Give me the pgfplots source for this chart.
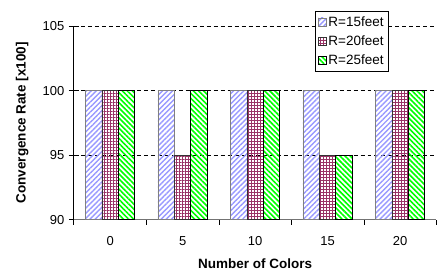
\documentclass[border=0pt]{standalone}
\usepackage{pgfplots}
\pgfplotsset{compat=1.18}
\usepackage{fontspec}
\setmainfont{Liberation Sans}
\usetikzlibrary{patterns.meta}
\definecolor{cblue}{RGB}{153,153,255}
\definecolor{cmaroon}{RGB}{153,51,102}
\definecolor{cgreen}{RGB}{0,255,0}
\begin{document}
\begin{tikzpicture}
\begin{axis}[
  name=ax,
  scale only axis, width=363pt, height=194pt,
  xmin=-0.5, xmax=4.5, ymin=90, ymax=105,
  ybar=0pt,
  xtick={0,1,2,3,4},
  xticklabels={0,5,10,15,20},
  minor xtick={-0.5,0.5,1.5,2.5,3.5,4.5},
  ytick={90,95,100,105},
  extra y ticks={95,100,105},
  extra y tick labels={},
  extra y tick style={grid=major},
  grid style={black, dash pattern=on 4pt off 3pt, line width=0.6pt},
  axis x line*=bottom, axis y line*=left,
  x axis line style={draw=black!55, line width=1.2pt},
  y axis line style={draw=black, line width=0.8pt},
  major tick length=10pt, minor tick length=5pt,
  xtick align=outside, ytick align=center,
  major x tick style={draw=none},
  minor x tick style={draw=black, line width=0.8pt},
  ytick style={draw=black, line width=0.8pt},
  /pgf/number format/assume math mode=true,
  ticklabel style={font=\fontsize{13}{15}\selectfont},
  yticklabel style={xshift=-1pt},
  xticklabel style={yshift=-3pt},
  label style={font=\fontsize{13.5}{15}\selectfont\bfseries},
  xlabel={Number of Colors},
  ylabel={Convergence Rate [x100]},
  xlabel style={at={(axis description cs:0.5,-0.227)}, anchor=center},
  ylabel style={at={(axis description cs:-0.143,0.5)}, anchor=center},
  legend style={at={(axis description cs:0.664,1.077)}, anchor=north west,
    draw=black, line width=0.6pt, font=\fontsize{13.5}{15}\selectfont,
    row sep=4pt, inner xsep=3pt, inner ysep=3pt,
    /tikz/every even column/.append style={column sep=4pt}},
  legend cell align=left,
  legend image code/.code={\draw[#1, line width=0.6pt] (0pt,-4pt) rectangle (8pt,4pt);},
]
\addplot[bar width=0.227, bar shift=-0.227, draw=black!50, line width=0.8pt,
  pattern={Lines[angle=45,distance=3.6pt,line width=1.4pt]}, pattern color=cblue]
  coordinates {(0,100) (1,100) (2,100) (3,100) (4,100)};
\addplot[bar width=0.227, bar shift=0, draw=black!80, line width=0.8pt,
  pattern={Hatch[angle=0,distance=3pt,line width=0.75pt]}, pattern color=cmaroon]
  coordinates {(0,100) (1,95) (2,100) (3,95) (4,100)};
\addplot[bar width=0.227, bar shift=0.227, draw=black, line width=0.8pt,
  pattern={Lines[angle=-45,distance=3.6pt,line width=1.6pt]}, pattern color=cgreen]
  coordinates {(0,100) (1,100) (2,100) (3,95) (4,100)};
\legend{R=15feet, R=20feet, R=25feet}
\end{axis}
\path ([xshift=-74pt,yshift=-54pt]ax.south west) rectangle ([yshift=26pt]ax.north east);
\end{tikzpicture}
\end{document}
